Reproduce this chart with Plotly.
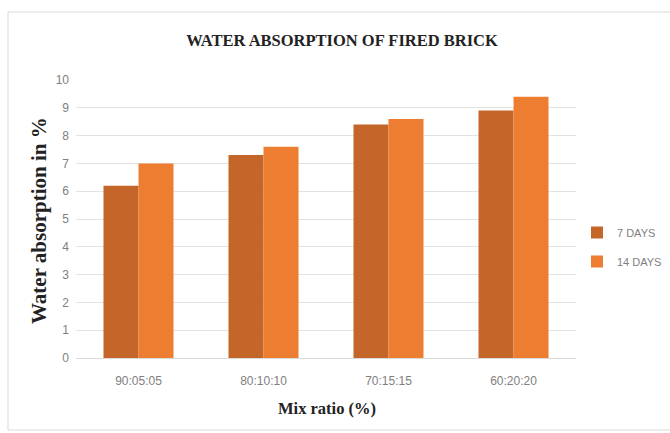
import plotly.graph_objects as go

# Mix ratios and water absorption (%) after firing
mix_ratios = ["90:05:05", "80:10:10", "70:15:15", "60:20:20"]
absorption_7_days = [6.2, 7.3, 8.4, 8.9]
absorption_14_days = [7.0, 7.6, 8.6, 9.4]
y_ticks = list(range(0, 11))

W, H = 670, 433
ML, MR, MT, MB = 76, 94, 80, 75
pw, ph = W - ML - MR, H - MT - MB


def px(x):
    return (x - ML) / pw


def py(y):
    return (H - MB - y) / ph


narrow = "Liberation Sans Narrow, Arial Narrow, sans-serif"
tick_font = dict(family=narrow, size=12, color="#808080")
bold_serif = "Liberation Serif, Times New Roman, serif"

fig = go.Figure()
fig.add_trace(go.Bar(name="7 DAYS", x=mix_ratios, y=absorption_7_days, legendgroup="d7",
                     marker=dict(color="#C4652A", line_width=0)))
fig.add_trace(go.Bar(name="14 DAYS", x=mix_ratios, y=absorption_14_days, legendgroup="d14",
                     marker=dict(color="#ED7D31", line_width=0)))

fig.update_layout(
    width=W, height=H,
    margin=dict(l=ML, r=MR, t=MT, b=MB, autoexpand=False),
    paper_bgcolor="white", plot_bgcolor="white",
    barmode="group", bargap=0.44, bargroupgap=0,
    title=dict(text="<b>WATER ABSORPTION OF FIRED BRICK</b>",
               font=dict(family=bold_serif, size=16.5, color="#222222"),
               x=px(342), xref="paper", xanchor="center",
               y=1 - 40 / H, yref="container", yanchor="middle"),
    legend=dict(x=px(577), y=py(247), xanchor="left", yanchor="middle",
                font=dict(family=narrow, size=11, color="#808080"),
                itemwidth=30, traceorder="grouped", tracegroupgap=10,
                bgcolor="rgba(0,0,0,0)"),
    showlegend=True,
    xaxis=dict(showgrid=False, showline=True, linecolor="#D9D9D9", linewidth=1,
               ticks="", tickfont=tick_font, ticklabelstandoff=12),
    yaxis=dict(range=[0, 10], tickvals=y_ticks, showgrid=True, gridcolor="#E3E3E3",
               gridwidth=1, zeroline=False, showline=False, ticks="",
               tickfont=tick_font, ticklabelstandoff=6),
    annotations=[
        dict(text="<b>Mix ratio (%)</b>", xref="paper", yref="paper",
             x=px(327), y=py(408), xanchor="center", yanchor="middle", showarrow=False,
             font=dict(family=bold_serif, size=16.5, color="#222222")),
        dict(text="<b>Water absorption in %</b>", xref="paper", yref="paper",
             x=px(39), y=py(221), xanchor="center", yanchor="middle", showarrow=False,
             textangle=-90, font=dict(family=bold_serif, size=21, color="#222222")),
    ],
    shapes=[
        dict(type="rect", xref="paper", yref="paper",
             x0=px(8), x1=px(675), y0=py(430), y1=py(12),
             line=dict(color="#D9D9D9", width=1), fillcolor="rgba(0,0,0,0)", layer="below"),
    ],
)

fig.write_html("out.html")
